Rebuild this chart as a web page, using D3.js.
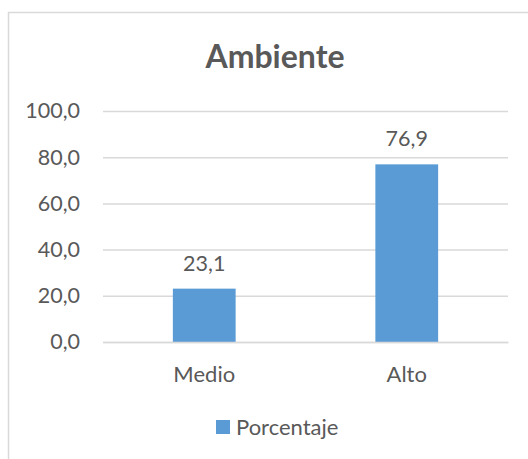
<!DOCTYPE html>
<html>
<head>
<meta charset="utf-8">
<script src="https://cdn.jsdelivr.net/npm/d3@7"></script>
<style>
  body { margin: 0; background: #fff; }
  text { font-family: Lato, "Open Sans", sans-serif; fill: #595959; }
</style>
</head>
<body>
<div id="chart"></div>
<script>
let categories = ['Medio', 'Alto']
let values = [23.1, 76.9]
let ticks = [0, 20, 40, 60, 80, 100]
let seriesName = 'Porcentaje'
let title = 'Ambiente'

let width = 528
let height = 459
let plot = { left: 103, right: 508, top: 111, bottom: 342 }

let svg = d3.select('#chart')
  .append('svg')
  .attr('width', width)
  .attr('height', height)

// chart area border
svg.append('rect')
  .attr('x', 8.5)
  .attr('y', 12.5)
  .attr('width', 540)
  .attr('height', 460)
  .attr('fill', '#fff')
  .attr('stroke', '#d9d9d9')
  .attr('stroke-width', 1.5)

let x = d3.scaleBand()
  .domain(categories)
  .range([plot.left, plot.right])
  .paddingInner(0.69)
  .paddingOuter(0.345)

let y = d3.scaleLinear()
  .domain([0, 100])
  .range([plot.bottom, plot.top])

let fmt = d => d3.format('.1f')(d).replace('.', ',')

svg.append('text')
  .attr('x', 275)
  .attr('y', 68)
  .attr('text-anchor', 'middle')
  .style('font-size', '32px')
  .style('font-weight', 'bold')
  .text(title)

let yAxis = svg.append('g')
  .attr('transform', `translate(${plot.left},0)`)
  .call(d3.axisLeft(y)
    .tickValues(ticks)
    .tickSize(-(plot.right - plot.left))
    .tickPadding(23)
    .tickFormat(fmt))

yAxis.select('.domain').remove()
yAxis.selectAll('line')
  .attr('stroke', '#d9d9d9')
  .attr('stroke-width', 1.5)
yAxis.selectAll('text')
  .style('font-size', '21.5px')
  .style('fill', '#595959')

svg.selectAll('.bar')
  .data(values)
  .join('rect')
  .attr('class', 'bar')
  .attr('x', (d, i) => x(categories[i]))
  .attr('y', d => y(d))
  .attr('width', x.bandwidth())
  .attr('height', d => y(0) - y(d))
  .attr('fill', '#5b9bd5')

svg.selectAll('.label')
  .data(values)
  .join('text')
  .attr('class', 'label')
  .attr('x', (d, i) => x(categories[i]) + x.bandwidth() / 2)
  .attr('y', d => y(d) - 18)
  .attr('text-anchor', 'middle')
  .style('font-size', '21.5px')
  .text(fmt)

let xAxis = svg.append('g')
  .attr('transform', `translate(0,${plot.bottom})`)
  .call(d3.axisBottom(x).tickSize(0).tickPadding(24))

xAxis.select('.domain')
  .attr('stroke', '#d9d9d9')
  .attr('stroke-width', 1.5)
xAxis.selectAll('text')
  .style('font-size', '22px')
  .style('fill', '#595959')

let legend = svg.append('g')
  .attr('transform', 'translate(216,420)')

legend.append('rect')
  .attr('width', 14)
  .attr('height', 14)
  .attr('fill', '#5b9bd5')

legend.append('text')
  .attr('x', 20)
  .attr('y', 15)
  .style('font-size', '22px')
  .text(seriesName)
</script>
</body>
</html>
